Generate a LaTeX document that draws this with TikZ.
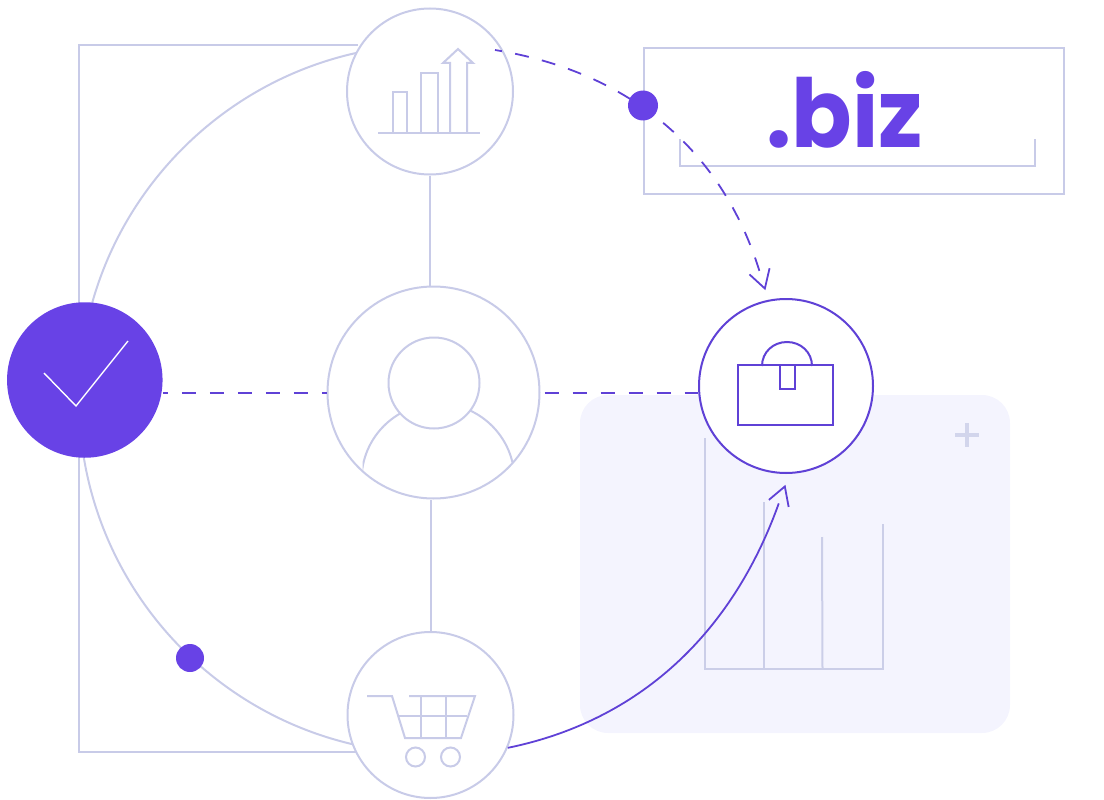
\documentclass[tikz,border=0pt]{standalone}
\usepackage{fontspec}
\setmainfont{Poppins}
\newfontfamily\bizfont[FakeStretch=0.94]{Poppins Bold}
\definecolor{pale}{HTML}{C8CBE8}
\definecolor{palechart}{HTML}{CBCEE8}
\definecolor{purp}{HTML}{6842E6}
\definecolor{purpline}{HTML}{5F41D6}
\definecolor{wash}{HTML}{F4F4FE}
\definecolor{pluscol}{HTML}{D2D5EC}
\pgfdeclarearrow{
  name=GapBarb,
  setup code={\pgfarrowssettipend{0.5pt}\pgfarrowssetlineend{-18pt}\pgfarrowssetbackend{-18pt}},
  drawing code={\pgfsetdash{}{0pt}\pgfsetmiterjoin\pgfpathmoveto{\pgfqpoint{-18pt}{10.5pt}}\pgfpathlineto{\pgfqpoint{0pt}{0pt}}\pgfpathlineto{\pgfqpoint{-18pt}{-10.5pt}}\pgfusepathqstroke}
}
\tikzset{
  paleline/.style={draw=pale,line width=2pt},
  ring/.style={circle,draw=pale,line width=2pt,fill=white,inner sep=0pt,minimum size=#1},
  purplering/.style={circle,draw=purpline,line width=2pt,fill=white,inner sep=0pt,minimum size=#1},
  blob/.style={circle,fill=purp,inner sep=0pt,minimum size=#1},
  iconline/.style={draw=pale,line width=2pt},
  bagline/.style={draw=purpline,line width=2pt},
  chartline/.style={draw=palechart,line width=2pt},
  dashline/.style={draw=purpline,line width=1.8pt,dash pattern=on 14pt off 14pt},
  curvedash/.style={draw=purpline,line width=1.8pt,dash pattern=on 14pt off 13.5pt,dash phase=7pt},
  arrowline/.style={draw=purpline,line width=1.8pt},
}
\begin{document}
\begin{tikzpicture}[x=1pt,y=-1pt]
\useasboundingbox (0,0) rectangle (1104,800);
% wash panel and bar chart
\node[fill=wash,rounded corners=28pt,minimum width=430pt,minimum height=338pt,inner sep=0pt] (panel) at (795,564) {};
\draw[chartline] (705,438) -- (705,668.5) -- (883,668.5) -- (883,524);
\draw[chartline] (763.5,502) -- (763.5,668.5);
\draw[chartline] (822,537) -- (822.5,668.5);
\draw[draw=pluscol,line width=3.6pt] (955,435) -- (979,435) (967,423) -- (967,447);
% .biz box
\node[draw=pale,line width=2pt,minimum width=420pt,minimum height=145.5pt,inner sep=0pt] (bizbox) at (854,120.8) {};
\draw[paleline] (679.5,139) -- (679.5,166) -- (1034.5,166) -- (1034.5,139);
\node[anchor=base west,inner sep=0pt,text=purp,font=\fontsize{95}{95}\bizfont] (biz) at (766,147) {.biz};
% frame and big arc
\draw[paleline] (358,45) -- (79,45) -- (79,752) -- (358,752);
\begin{scope}
\clip (0,0) rectangle (430,800);
\draw[paleline] (433.5,399) circle[radius=354.5];
\end{scope}
% nodes
\node[ring=166pt] (top) at (430,91.5) {};
\node[ring=212pt] (center) at (433.5,392.5) {};
\node[ring=166pt] (bottom) at (430.5,715) {};
\node[purplering=174pt] (right) at (786,386) {};
\node[blob=155.5pt] (left) at (84.8,380) {};
% connectors
\draw[paleline] (top.south) -- (center.north -| top);
\draw[paleline] (bottom.north) -- (center.south -| bottom);
\draw[dashline,dash phase=9pt] ([yshift=-0.8pt]left.east |- center.west) -- ([yshift=-0.8pt]center.west);
\draw[dashline] ([xshift=4pt,yshift=-0.8pt]center.east) -- ([yshift=-0.8pt]right.west |- center.east);
\coordinate (dashstart) at (495,50);
\coordinate (dashtip) at (765,289);
\coordinate (solidtip) at (785,486);
\draw[curvedash,-GapBarb] (dashstart) .. controls (630,72) and (722,150) .. (dashtip);
\draw[arrowline,-GapBarb] (bottom.-23) .. controls (639,721) and (732,634) .. (solidtip);
\node[blob=30pt] (dotA) at (643,105.5) {};
\node[blob=28pt] (dotB) at (190,658) {};
% check mark
\draw[draw=white,line width=1.4pt] (44,373) -- (76,406) -- (128,341);
% person
\begin{scope}
\clip (362.5,471) -- (513,462.5) -- (513,300) -- (362.5,300) -- cycle;
\draw[iconline] (438,480) circle[radius=76.5];
\end{scope}
\node[ring=91pt] (head) at (434,383) {};
% chart icon
\draw[iconline] (378,133) -- (480,133);
\draw[iconline] (392.5,133) -- (392.5,92) -- (407,92) -- (407,133);
\draw[iconline] (421,133) -- (421,73.5) -- (438,73.5) -- (438,133);
\draw[iconline] (450,133) -- (450,63) -- (443,63) -- (458,49) -- (473,63) -- (467,63) -- (467,133);
% cart icon
\draw[iconline] (367,696) -- (392,696) -- (405,738) -- (461,738) -- (475,696) -- (409,696);
\draw[iconline] (399,716) -- (467,716);
\draw[iconline] (421,696) -- (421,738);
\draw[iconline] (446,696) -- (446,738);
\node[circle,draw=pale,line width=2pt,inner sep=0pt,minimum size=19pt] (wheelA) at (415.5,757) {};
\node[circle,draw=pale,line width=2pt,inner sep=0pt,minimum size=19pt] (wheelB) at (450.5,757) {};
% bag icon
\draw[bagline] (738,365) rectangle (833,425);
\draw[bagline] (780,365) rectangle (795,389);
\draw[bagline] (762,366) .. controls (762,352.2) and (773.2,342) .. (787,342) .. controls (800.8,342) and (812,352.2) .. (812,366);
\end{tikzpicture}
\end{document}
